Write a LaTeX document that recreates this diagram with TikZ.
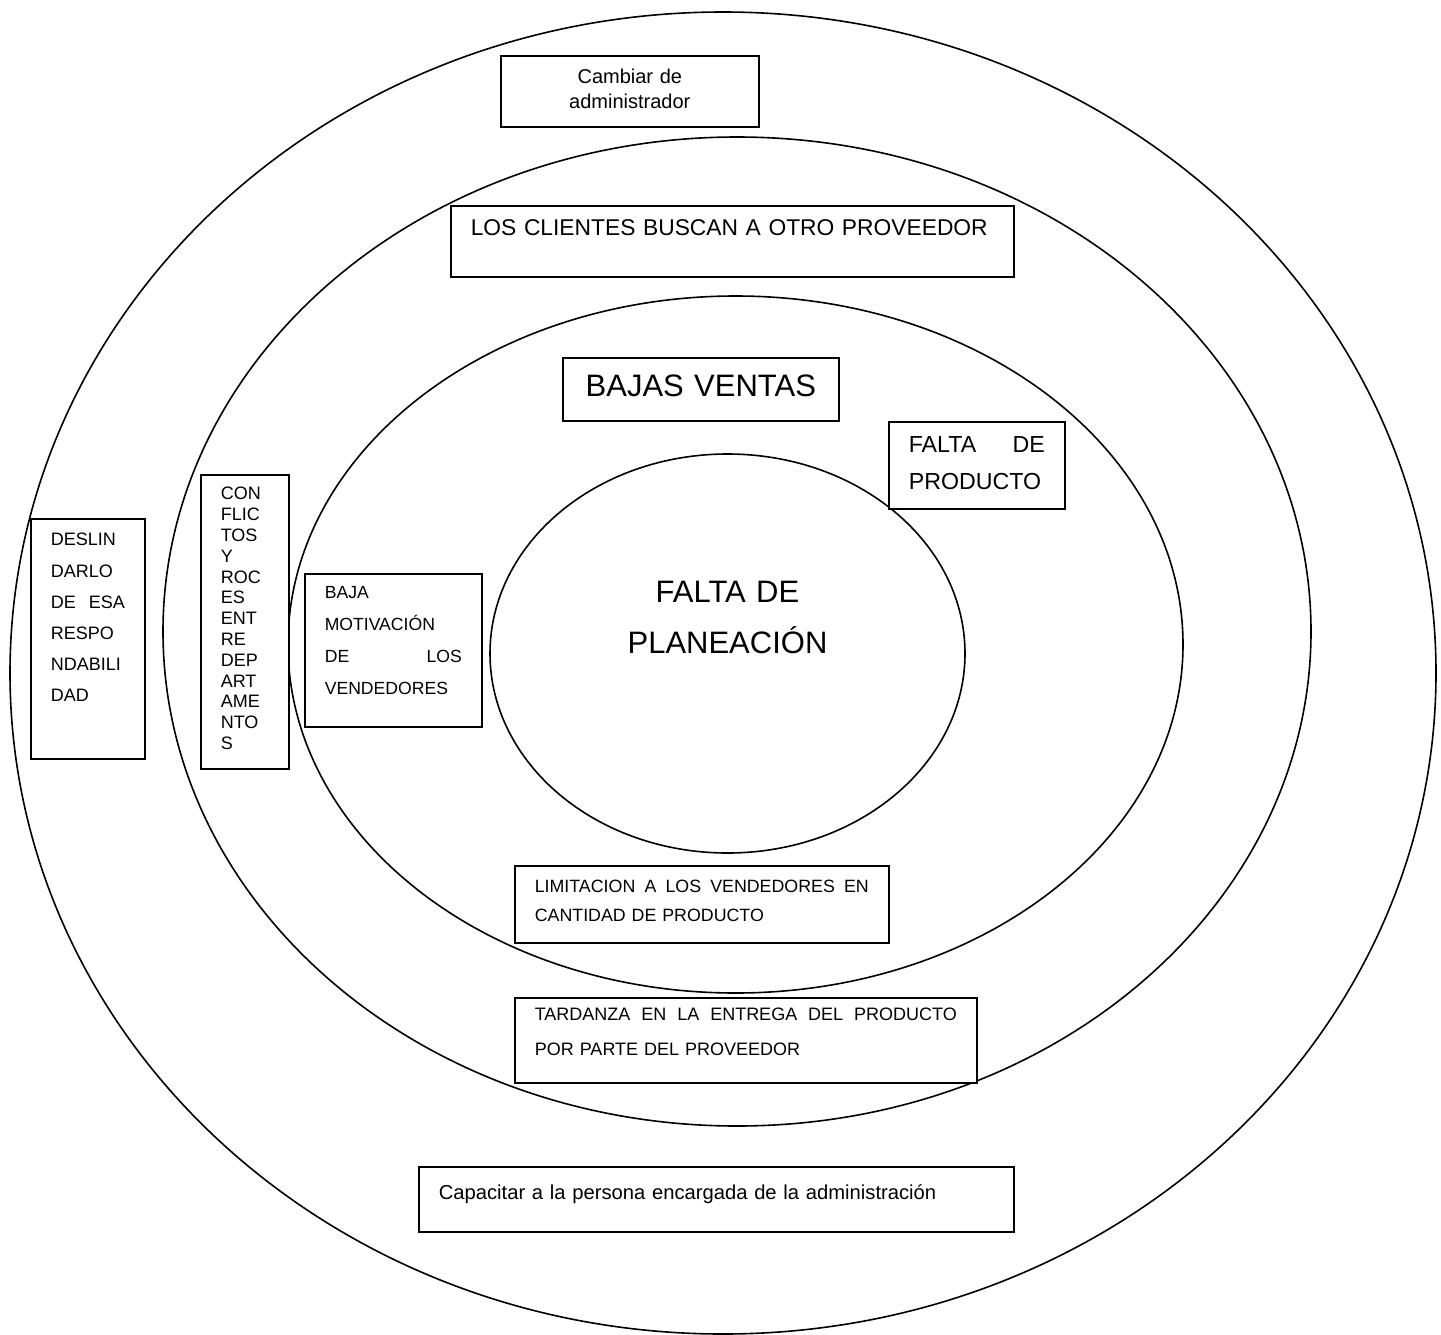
\documentclass[tikz,border=0pt]{standalone}
\usepackage{fontspec}
\setmainfont{Liberation Sans}
\usepackage{tikz}
\usetikzlibrary{shapes}
\tikzstyle{anillo}=[ellipse,draw=black,line width=0.8pt,inner sep=0pt]
\tikzstyle{caja}=[rectangle,draw=black,fill=white,line width=0.8pt,anchor=north west,inner xsep=10pt,inner ysep=0pt,align=left]
\tikzset{centrado/.style={align=center}}

\begin{document}
\begin{tikzpicture}[x=0.5pt,y=-0.5pt]

  \useasboundingbox (0,0) rectangle (1441,1334);

   \foreach \x/\y/\w/\h/\name in {723/673/1426/1322/externo, 737/631.5/1148/989/segundo, 735.5/644.5/895/697/tercero}
          \node[anillo, minimum width=\w*0.5pt, minimum height=\h*0.5pt] (\name) at (\x,\y) {};

   \node[anillo, minimum width=237.5pt, minimum height=199.5pt, text width=130pt, centrado,
         text height=12pt, text depth=63.5pt, font=\fontsize{15.5}{25.5}\selectfont] (nucleo) at (727.5,653.5) {FALTA DE\\PLANEACIÓN};

   \node[caja, text width=109pt, centrado, text height=14pt, text depth=21.5pt, font=\fontsize{10}{12.5}\selectfont] (cambiar) at (500,55) {Cambiar de\\administrador};
   \node[caja, text width=261.5pt, text height=15pt, text depth=20.5pt, font=\fontsize{11.4}{14}\selectfont] (clientes) at (450,205) {LOS CLIENTES BUSCAN A OTRO PROVEEDOR};
   \node[caja, text width=118pt, centrado, text height=19.5pt, text depth=12pt, font=\fontsize{15.5}{18}\selectfont] (bajas) at (562,357) {BAJAS VENTAS};
   \node[caja, text width=68pt, text height=15.5pt, text depth=28pt, font=\fontsize{11.6}{18.5}\selectfont] (faltaprod) at (888,421) {FALTA\hfill DE\\PRODUCTO};

   \node[caja, text width=37pt, text height=13.5pt, text depth=106.5pt, font=\fontsize{9}{15.6}\selectfont] (deslindar) at (30,518) {DESLIN\\DARLO\\DE\hfill ESA\\RESPO\\NDABILI\\DAD};
   \node[caja, text width=24pt, text height=12.5pt, text depth=134.5pt, font=\fontsize{9}{10.4}\selectfont] (conflictos) at (200,474) {CON\\FLIC\\TOS\\Y\\ROC\\ES\\ENT\\RE\\DEP\\ART\\AME\\NTO\\S};
   \node[caja, text width=68.5pt, text height=12.5pt, text depth=64pt, font=\fontsize{8.8}{16}\selectfont] (motivacion) at (304,573) {BAJA\\MOTIVACIÓN\\DE\hfill LOS\\VENDEDORES};

   \node[caja, text width=167pt, text height=13.5pt, text depth=25pt, font=\fontsize{8.9}{14.5}\selectfont] (limitacion) at (514,865) {LIMITACION\hfill A\hfill LOS\hfill VENDEDORES\hfill EN\\CANTIDAD DE PRODUCTO};
   \node[caja, text width=211pt, text height=11.5pt, text depth=31pt, font=\fontsize{9}{17.5}\selectfont] (tardanza) at (514,997) {TARDANZA\hfill EN\hfill LA\hfill ENTREGA\hfill DEL\hfill PRODUCTO\\POR PARTE DEL PROVEEDOR};
   \node[caja, text width=277.5pt, text height=16.5pt, text depth=16pt, font=\fontsize{10.1}{12}\selectfont] (capacitar) at (418,1166) {Capacitar a la persona encargada de la administración};

\end{tikzpicture}
\end{document}
